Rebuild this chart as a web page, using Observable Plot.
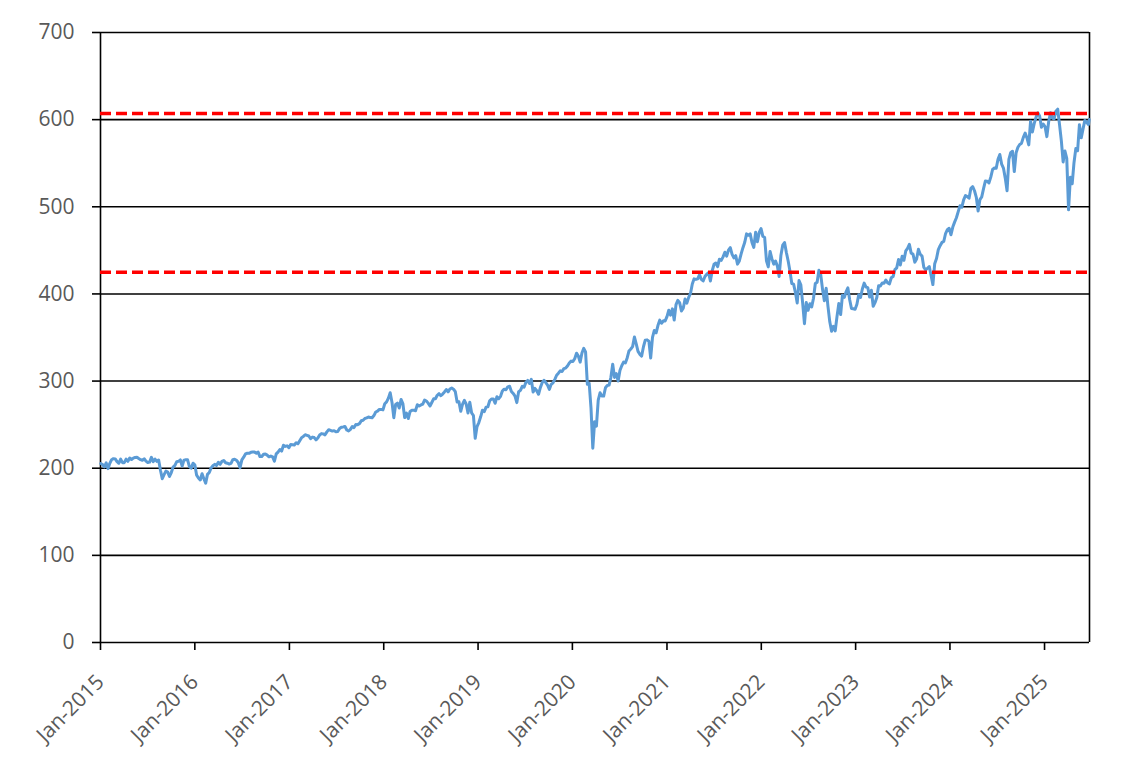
<!DOCTYPE html>
<html><head><meta charset="utf-8">
<script src="https://cdn.jsdelivr.net/npm/d3@7"></script>
<script src="https://cdn.jsdelivr.net/npm/@observablehq/plot@0.6"></script>
<style>body{margin:0;background:#fff;}</style>
</head><body><div id="chart"></div>
<script>
// Weekly closes (Fridays), read/
const y2015 = [205.4,204.3,201.6,206.1,199.5, 205.6,209.8,211.0,210.7, 207.5,205.7,210.4,206.4, 206.4,210.4,207.9,211.7, 210.0,211.6,212.4,212.6,211.1, 209.8,209.1,210.8,208.2, 206.6,207.0,212.5,207.5,210.5, 207.9,209.4,197.6,188.0, 192.6,196.7,195.5,190.5, 195.0,201.3,203.3,207.5,207.9, 209.5,202.5,209.3,209.6, 209.6,201.9,200.0,205.7];
const y2016 = [203.9,192.0,188.8,186.5,193.7, 188.0,182.9,192.9,195.1, 200.4,202.8,204.4,203.1, 206.9,204.5,207.8,208.9,206.3, 205.7,204.8,205.5,209.8, 210.3,209.1,206.5,200.5, 209.6,212.7,216.4,217.2,217.1, 218.2,218.5,218.5,217.3, 218.4,213.3,213.4,216.0,216.3, 215.0,213.1,214.0,213.0, 208.0,216.4,218.5,221.5, 219.7,226.3,225.0,225.7,223.5];
const y2017 = [227.2,227.0,226.7,229.2, 228.0,231.5,235.1,236.5, 238.4,237.7,237.0,233.9,235.7, 235.2,232.5,234.6,238.1, 239.7,239.4,238.3,241.7, 244.2,243.4,242.6,243.1,241.8, 242.1,245.6,247.1,247.4, 247.9,243.8,242.7,244.6, 247.8,246.6,250.1,250.0,251.2, 254.4,255.0,257.1,257.7, 258.7,258.1,257.9,260.4, 264.5,265.5,267.5,267.5,266.9];
const y2018 = [274.0,276.1,280.4,286.6, 275.5,258.0,273.1,274.7, 269.1,278.9,274.2,258.1,263.2, 257.0,265.2,266.6,266.6, 266.0,272.9,271.3,272.6, 273.6,278.2,277.1,274.7,271.3, 275.4,279.6,279.7,283.7, 285.5,283.2,285.1,287.5,290.3, 287.6,290.9,292.0,290.7, 287.8,276.0,276.3,265.3, 273.4,277.8,273.7,263.3,275.7, 263.6,260.5,234.3,247.8];
const y2019 = [252.4,259.0,266.5,265.0, 270.1,270.5,277.4,279.5, 279.5,274.5,282.0,279.8,282.5, 288.6,290.7,290.0,293.4, 294.0,288.1,285.8,282.8,275.3, 287.7,289.3,294.0,293.0, 298.5,300.7,297.2,302.0, 287.5,291.6,288.9,284.9,292.5, 298.1,300.9,298.3,295.4, 290.5,296.3,298.0,302.0, 306.7,309.0,311.8,311.0,314.3, 314.9,317.3,320.7,322.9];
const y2020 = [322.4,325.7,332.0,328.8,321.7, 332.2,337.6,333.5,296.3, 297.5,269.3,223.0,253.4, 248.2,278.2,286.6,283.0, 282.8,292.4,295.0,295.4,304.3, 319.3,304.2,308.6,300.1, 312.2,317.6,321.7,320.9,326.5, 334.6,336.8,339.5,350.6, 342.6,334.1,330.7,328.7, 339.4,346.9,347.3,345.8,326.5, 350.2,358.1,355.3,363.7, 369.9,366.3,369.2,369.0];
const y2021 = [373.9,381.3,375.7,382.9,370.1, 387.7,392.6,390.0,380.4, 383.6,394.1,389.5,396.0, 400.6,411.5,417.3,416.7,417.3, 422.1,416.6,414.9,420.0, 422.6,424.3,414.9,426.6, 434.0,435.5,431.3,439.9,438.5, 442.5,447.9,443.4,450.3, 453.1,445.4,441.4,443.9, 434.2,437.9,446.0,453.1,459.3, 468.9,467.3,468.9,459.0, 453.4,470.7,459.9,470.6,475.0];
const y2022 = [466.1,464.7,438.0,431.0, 448.7,440.5,434.2,437.8, 432.2,420.1,444.5,456.0, 459.0,447.6,437.8,426.0,412.0, 411.3,401.7,389.6,415.3, 410.5,389.8,365.9,390.1, 381.2,388.7,385.1,395.1,412.0, 413.5,427.1,422.1,405.3, 392.2,406.6,385.6,368.0,357.2, 362.8,357.6,374.3,389.0, 376.4,398.5,396.0,402.3, 406.9,393.3,383.3,382.9,382.4];
const y2023 = [388.1,399.1,395.9,405.7, 412.4,408.0,407.3,396.4, 404.2,385.9,390.0,395.8,409.4, 409.2,412.5,412.2,415.9, 412.6,411.6,418.6,420.0, 427.9,429.9,439.5,433.2,443.3, 438.6,449.3,452.2,456.9, 446.8,445.7,436.5,440.0, 451.2,445.5,443.4,430.4,427.5, 429.5,431.5,421.2,410.7, 434.7,440.6,450.8,455.3, 459.1,460.2,469.3,473.7,475.3];
const y2024 = [467.9,476.7,482.4,487.4, 494.4,501.2,499.5,507.9, 512.9,511.7,509.8,521.2,523.1, 518.4,510.9,495.2,508.3, 511.3,520.8,529.5,529.4,527.4, 534.0,542.8,544.5,544.2, 554.6,560.0,549.0,544.4, 532.9,518.5,554.3,562.1,563.7, 540.4,562.0,568.3,571.5, 573.0,579.6,584.6,579.0, 571.0,598.2,585.8,595.5,602.6, 607.8,604.2,591.2,595.0];
const y2025 = [592.0,580.5,597.6,608.0,601.8, 600.8,609.7,612.0,594.2, 575.9,551.4,564.0,555.7, 496.5,533.9,526.4,550.6, 566.8,564.3,594.2,579.1,589.4, 599.1,597.0,594.3];
const lastDate = "2025-06-23", lastValue = 600.2;

const yearSeries = [[2015,y2015],[2016,y2016],[2017,y2017],[2018,y2018],[2019,y2019],[2020,y2020],[2021,y2021],[2022,y2022],[2023,y2023],[2024,y2024],[2025,y2025]];
const refLevels = [607, 425];
const yTicks = [0, 100, 200, 300, 400, 500, 600, 700];
const xTickYears = [2015, 2016, 2017, 2018, 2019, 2020, 2021, 2022, 2023, 2024, 2025];
const xStart = "2015-01-01", xEnd = "2025-06-24";

const data = [];
for (const [yr, vals] of yearSeries) {
  const fridays = d3.utcFriday.range(new Date(Date.UTC(yr, 0, 1)), new Date(Date.UTC(yr + 1, 0, 1)));
  vals.forEach((v, i) => data.push({date: fridays[i], value: v}));
}
data.push({date: new Date(lastDate), value: lastValue});
const xTicks = xTickYears.map(y => new Date(Date.UTC(y, 0, 1)));

const chart = Plot.plot({
  width: 1144, height: 769,
  marginLeft: 100, marginRight: 55, marginTop: 32, marginBottom: 127,
  style: {fontFamily: "'Open Sans', Lato, sans-serif", fontSize: "21px", color: "black", background: "white"},
  x: {type: "utc", domain: [new Date(xStart), new Date(xEnd)]},
  y: {domain: [0, 700]},
  marks: [
    Plot.ruleY(yTicks, {stroke: "black", strokeWidth: 1.6}),
    Plot.ruleX([new Date(xStart), new Date(xEnd)], {stroke: "black", strokeWidth: 1.6}),
    Plot.axisY({ticks: yTicks, tickSize: 8, tickPadding: 18, label: null, stroke: "black", strokeWidth: 1.6, fill: "#595959", fontSize: 21}),
    Plot.axisX({ticks: xTicks, tickFormat: () => "", tickSize: 8, label: null, stroke: "black", strokeWidth: 1.6}),
    Plot.axisX({ticks: xTicks, tickFormat: d3.utcFormat("%b-%Y"), tickRotate: -45, tickSize: 0, tickPadding: 14, dx: 0, dy: 22, label: null, fill: "#595959", fontSize: 21}),
    Plot.line(data, {x: "date", y: "value", stroke: "#5B9BD5", strokeWidth: 3}),
    Plot.ruleY(refLevels, {stroke: "#FF0000", strokeWidth: 3.5, strokeDasharray: "11,5"})
  ]
});
document.getElementById("chart").appendChild(chart);
</script>
</body></html>
